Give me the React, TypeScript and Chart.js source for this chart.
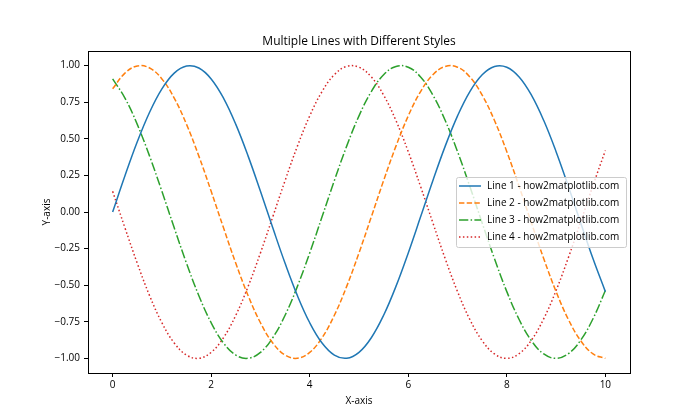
import React, { useEffect, useRef } from "react";
import { Chart, registerables } from "chart.js";

Chart.register(...registerables);

const titleText = "Multiple Lines with Different Styles";
const xAxisTitle = "X-axis";
const yAxisTitle = "Y-axis";

const xValues = [
  0, 0.25, 0.5, 0.75, 1, 1.25, 1.5, 1.75, 2, 2.25, 2.5, 2.75, 3, 3.25, 3.5, 3.75, 4, 4.25, 4.5, 4.75,
  5, 5.25, 5.5, 5.75, 6, 6.25, 6.5, 6.75, 7, 7.25, 7.5, 7.75, 8, 8.25, 8.5, 8.75, 9, 9.25, 9.5, 9.75, 10,
];

const line1 = [
  0, 0.2474, 0.4794, 0.6816, 0.8415, 0.949, 0.9975, 0.984, 0.9093, 0.7781, 0.5985, 0.3817, 0.1411,
  -0.1082, -0.3508, -0.5716, -0.7568, -0.895, -0.9775, -0.9993, -0.9589, -0.8589, -0.7055, -0.5083,
  -0.2794, -0.0332, 0.2151, 0.45, 0.657, 0.8231, 0.938, 0.9946, 0.9894, 0.9227, 0.7985, 0.6248, 0.4121,
  0.1739, -0.0751, -0.3195, -0.544,
];

const line2 = [
  0.8415, 0.949, 0.9975, 0.984, 0.9093, 0.7781, 0.5985, 0.3817, 0.1411, -0.1082, -0.3508, -0.5716,
  -0.7568, -0.895, -0.9775, -0.9993, -0.9589, -0.8589, -0.7055, -0.5083, -0.2794, -0.0332, 0.2151, 0.45,
  0.657, 0.8231, 0.938, 0.9946, 0.9894, 0.9227, 0.7985, 0.6248, 0.4121, 0.1739, -0.0751, -0.3195, -0.544,
  -0.7347, -0.8797, -0.97, -1.0,
];

const line3 = [
  0.9093, 0.7781, 0.5985, 0.3817, 0.1411, -0.1082, -0.3508, -0.5716, -0.7568, -0.895, -0.9775, -0.9993,
  -0.9589, -0.8589, -0.7055, -0.5083, -0.2794, -0.0332, 0.2151, 0.45, 0.657, 0.8231, 0.938, 0.9946,
  0.9894, 0.9227, 0.7985, 0.6248, 0.4121, 0.1739, -0.0751, -0.3195, -0.544, -0.7347, -0.8797, -0.97,
  -1.0, -0.9678, -0.8755, -0.7287, -0.5366,
];

const line4 = [
  0.1411, -0.1082, -0.3508, -0.5716, -0.7568, -0.895, -0.9775, -0.9993, -0.9589, -0.8589, -0.7055,
  -0.5083, -0.2794, -0.0332, 0.2151, 0.45, 0.657, 0.8231, 0.938, 0.9946, 0.9894, 0.9227, 0.7985, 0.6248,
  0.4121, 0.1739, -0.0751, -0.3195, -0.544, -0.7347, -0.8797, -0.97, -1.0, -0.9678, -0.8755, -0.7287,
  -0.5366, -0.3111, -0.0663, 0.1826, 0.4202,
];

const seriesLabels = [
  "Line 1 - how2matplotlib.com",
  "Line 2 - how2matplotlib.com",
  "Line 3 - how2matplotlib.com",
  "Line 4 - how2matplotlib.com",
];

const xTicks = [0, 2, 4, 6, 8, 10];
const yTicks = [-1, -0.75, -0.5, -0.25, 0, 0.25, 0.5, 0.75, 1];

const FONT = '"Open Sans", "Noto Sans", sans-serif';

export default function App() {
  const ref = useRef<HTMLCanvasElement>(null);

  useEffect(() => {
    document.body.style.margin = "0";
    const canvas = ref.current;
    if (!canvas) return;

    const colors = ["#1f77b4", "#ff7f0e", "#2ca02c", "#d62728"];
    const dashes: number[][] = [[], [5.4, 2.3], [9.3, 2.3, 1.5, 2.3], [1.5, 2.4]];
    const series = [line1, line2, line3, line4];

    const decor = {
      id: "decor",
      afterDatasetsDraw(chart: any) {
        const { ctx, chartArea } = chart;
        const { left, right, top, bottom } = chartArea;
        ctx.save();
        // spines
        ctx.strokeStyle = "#000";
        ctx.lineWidth = 1;
        ctx.strokeRect(Math.round(left) + 0.5, Math.round(top) + 0.5, Math.round(right - left), Math.round(bottom - top));

        // title
        ctx.fillStyle = "#000";
        ctx.textAlign = "center";
        ctx.textBaseline = "alphabetic";
        ctx.font = `12px ${FONT}`;
        ctx.fillText(titleText, (left + right) / 2, 45);

        // axis titles
        ctx.font = `10px ${FONT}`;
        ctx.textBaseline = "middle";
        ctx.fillText(xAxisTitle, (left + right) / 2, 401);
        ctx.save();
        ctx.translate(47, (top + bottom) / 2);
        ctx.rotate(-Math.PI / 2);
        ctx.fillText(yAxisTitle, 0, 0);
        ctx.restore();

        // legend
        const lx = 456.5, ly = 177.5, lw = 170, lh = 70;
        ctx.beginPath();
        const r = 2;
        ctx.moveTo(lx + r, ly);
        ctx.lineTo(lx + lw - r, ly);
        ctx.arcTo(lx + lw, ly, lx + lw, ly + r, r);
        ctx.lineTo(lx + lw, ly + lh - r);
        ctx.arcTo(lx + lw, ly + lh, lx + lw - r, ly + lh, r);
        ctx.lineTo(lx + r, ly + lh);
        ctx.arcTo(lx, ly + lh, lx, ly + lh - r, r);
        ctx.lineTo(lx, ly + r);
        ctx.arcTo(lx, ly, lx + r, ly, r);
        ctx.closePath();
        ctx.fillStyle = "rgba(255,255,255,0.8)";
        ctx.fill();
        ctx.strokeStyle = "#cccccc";
        ctx.lineWidth = 1;
        ctx.stroke();

        const rows = [186, 203, 220, 237];
        ctx.font = `10px ${FONT}`;
        ctx.textAlign = "left";
        ctx.textBaseline = "middle";
        seriesLabels.forEach((lab, i) => {
          ctx.beginPath();
          ctx.setLineDash(dashes[i]);
          ctx.strokeStyle = colors[i];
          ctx.lineWidth = 1.5;
          ctx.moveTo(459, rows[i]);
          ctx.lineTo(481, rows[i]);
          ctx.stroke();
          ctx.setLineDash([]);
          ctx.fillStyle = "#000";
          ctx.fillText(lab, 487, rows[i]);
        });
        ctx.restore();
      },
    };

    const chart = new Chart(canvas, {
      type: "line",
      data: {
        datasets: series.map((s, i) => ({
          label: seriesLabels[i],
          data: xValues.map((x, j) => ({ x, y: s[j] })),
          borderColor: colors[i],
          borderWidth: 1.5,
          borderDash: dashes[i],
          borderCapStyle: "butt",
          pointRadius: 0,
          fill: false,
          tension: 0.4,
        })),
      },
      options: {
        animation: false,
        responsive: false,
        maintainAspectRatio: false,
        layout: { padding: { top: 51, right: 70, left: 0, bottom: 0 } },
        plugins: {
          legend: { display: false },
          title: { display: false },
          tooltip: { enabled: false },
        },
        scales: {
          x: {
            type: "linear",
            min: -0.5,
            max: 10.5,
            afterBuildTicks: (s: any) => {
              s.ticks = xTicks.map((v) => ({ value: v }));
            },
            afterFit: (s: any) => {
              s.height = 47;
            },
            grid: { drawOnChartArea: false, drawTicks: true, tickLength: 4, tickColor: "#000", color: "#000" },
            border: { display: true, color: "#000" },
            ticks: {
              color: "#000",
              font: { family: FONT, size: 10 },
              padding: 2,
              maxRotation: 0,
              autoSkip: false,
              callback: (v: any) => String(v),
            },
          },
          y: {
            type: "linear",
            min: -1.1,
            max: 1.1,
            afterBuildTicks: (s: any) => {
              s.ticks = yTicks.map((v) => ({ value: v }));
            },
            afterFit: (s: any) => {
              s.width = 88;
            },
            grid: { drawOnChartArea: false, drawTicks: true, tickLength: 4, tickColor: "#000", color: "#000" },
            border: { display: true, color: "#000" },
            ticks: {
              color: "#000",
              font: { family: FONT, size: 10 },
              padding: 4,
              autoSkip: false,
              callback: (v: any) => {
                const n = Number(v);
                const s = Math.abs(n).toFixed(2);
                return n < 0 ? "\u2212" + s : s;
              },
            },
          },
        },
      },
      plugins: [decor],
    } as any);

    return () => chart.destroy();
  }, []);

  return (
    <div style={{ width: 700, height: 420, position: "relative" }}>
      <canvas ref={ref} width={700} height={420} style={{ display: "block" }} />
    </div>
  );
}
